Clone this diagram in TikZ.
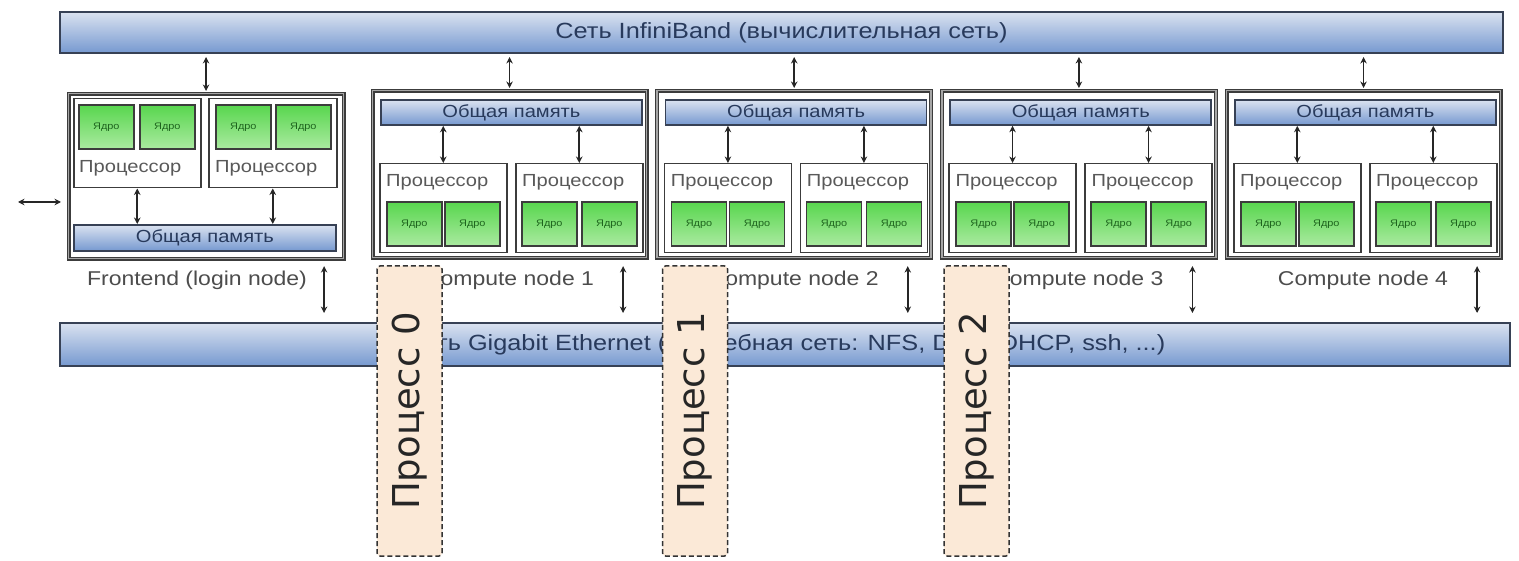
\documentclass[tikz,border=0pt]{standalone}
\usepackage{fontspec}
\setmainfont{Liberation Sans}
\newfontfamily\widesans{Liberation Sans}[FakeStretch=1.15]
\newfontfamily\procfont{DejaVu Sans}
\usetikzlibrary{arrows.meta,calc}

\definecolor{barTop}{RGB}{218,226,240}
\definecolor{barBot}{RGB}{118,153,208}
\definecolor{barEdge}{RGB}{55,65,85}
\definecolor{barText}{RGB}{40,58,92}
\definecolor{coreTop}{RGB}{88,214,78}
\definecolor{coreBot}{RGB}{170,234,160}
\definecolor{coreText}{RGB}{30,100,30}
\definecolor{procFill}{RGB}{251,233,215}
\definecolor{edge}{RGB}{60,60,60}

\tikzset{
  netbar/.style={draw=barEdge, line width=2pt, top color=barTop, bottom color=barBot,
    inner sep=0pt, text=barText, font=\widesans\fontsize{22}{22}\selectfont},
  membar/.style={draw=barEdge, line width=1.8pt, top color=barTop, bottom color=barBot,
    inner sep=0pt, anchor=north west, text=barText, font=\widesans\fontsize{17.5}{17.5}\selectfont},
  hostbox/.style={draw=edge, double=black!35, double distance=1.8pt, line width=1.1pt,
    fill=white, inner sep=0pt, anchor=north west},
  cpubox/.style={draw=edge, line width=1.5pt, fill=white, inner sep=0pt, anchor=north west},
  corebox/.style={draw=edge, line width=1.7pt, top color=coreTop, bottom color=coreBot,
    inner sep=0pt, anchor=north west, minimum width=55pt, minimum height=44pt,
    text=coreText, font=\widesans\fontsize{9.5}{9.5}\selectfont},
  cputext/.style={anchor=west, text=black!65, font=\widesans\fontsize{17.5}{17.5}\selectfont, inner sep=0pt},
  hostlabel/.style={text=black!70, font=\widesans\fontsize{20}{20}\selectfont, inner sep=0pt},
  link/.style={<->, >={Stealth[length=6.5pt,width=6.5pt]}, line width=1.7pt, draw=black!85},
  procbox/.style={draw=black!80, dash pattern=on 5pt off 3pt, line width=1.5pt,
    fill=procFill, rounded corners=3pt, rotate=90, minimum width=290pt,
    minimum height=65pt, inner sep=0pt, font=\procfont\fontsize{37}{37}\selectfont,
    text=black!85},
}

\begin{document}
\begin{tikzpicture}[x=1pt,y=-1pt]
\useasboundingbox (0,0) rectangle (1519,561);

% networks
\node[netbar, minimum width=1443pt, minimum height=41pt] (ib) at (781.5,32.5)
  {Сеть InfiniBand (вычислительная сеть)};
\node[netbar, minimum width=1450pt, minimum height=43pt] (eth) at (785,344.5)
  {Сеть Gigabit Ethernet (служебная сеть: NFS, DNS, DHCP, ssh, ...)};

% frontend node
\node[hostbox, minimum width=275pt, minimum height=165pt] (fe) at (68,93) {};
\node[cpubox, minimum width=127pt, minimum height=89pt] (fe-p1) at (73,98) {};
\node[cpubox, minimum width=128pt, minimum height=89pt] (fe-p2) at (208,98) {};
\node[corebox] (fe-p1-c1) at (78,104) {Ядро};
\node[corebox] (fe-p1-c2) at (139,104) {Ядро};
\node[corebox] (fe-p2-c1) at (215,104) {Ядро};
\node[corebox] (fe-p2-c2) at (275,104) {Ядро};
\node[cputext] (fe-p1-t) at (79,168) {Процессор};
\node[cputext] (fe-p2-t) at (215,168) {Процессор};
\node[membar, minimum width=262pt, minimum height=26pt] (fe-mem) at (73,224) {Общая память};
\draw[link] (fe-p1.south) -- (fe-p1.south |- fe-mem.north);
\draw[link] (fe-p2.south) -- (fe-p2.south |- fe-mem.north);
\node[hostlabel] (fe-l) at (197,280) {Frontend (login node)};
\draw[link, shorten <=3pt, shorten >=2pt] (ib.south -| fe.north) -- (fe.north);
\coordinate (fe-e) at ([xshift=-20pt,yshift=-7pt]fe.south east);
\draw[link, shorten >=9pt] (fe-e) -- (fe-e |- eth.north);
\coordinate (ext) at (18,202);
\draw[link, shorten >=7pt] (ext) -- (ext -| fe.west);

% compute nodes
\foreach \i in {1,...,4}{
  \pgfmathsetmacro{\x}{372+(\i-1)*284.67}
  \node[hostbox, minimum width=274pt, minimum height=167pt] (c\i) at (\x,90) {};
  \node[membar, minimum width=261pt, minimum height=25pt] (c\i-mem) at (\x+8,99) {Общая память};
  \node[cpubox, minimum width=127pt, minimum height=89pt] (c\i-p1) at (\x+7,163) {};
  \node[cpubox, minimum width=127pt, minimum height=89pt] (c\i-p2) at (\x+143,163) {};
  \node[cputext] (c\i-p1-t) at (\x+14,182) {Процессор};
  \node[cputext] (c\i-p2-t) at (\x+150,182) {Процессор};
  \node[corebox] (c\i-p1-c1) at (\x+14,201) {Ядро};
  \node[corebox] (c\i-p1-c2) at (\x+72,201) {Ядро};
  \node[corebox] (c\i-p2-c1) at (\x+149,201) {Ядро};
  \node[corebox] (c\i-p2-c2) at (\x+209,201) {Ядро};
  \draw[link] (c\i-p1.north |- c\i-mem.south) -- (c\i-p1.north);
  \draw[link] (c\i-p2.north |- c\i-mem.south) -- (c\i-p2.north);
  \node[hostlabel] (c\i-l) at (\x+137,280) {Compute node \i};
  \draw[link, shorten <=3pt, shorten >=2pt] (ib.south -| c\i.north) -- (c\i.north);
  \coordinate (c\i-e) at ([xshift=-24pt,yshift=-8pt]c\i.south east);
  \draw[link, shorten >=9pt] (c\i-e) -- (c\i-e |- eth.north);
}

% processes
\node[procbox] (pr0) at (409.5,411) {Процесс 0};
\node[procbox] (pr1) at (695,411) {Процесс 1};
\node[procbox] (pr2) at (976.5,411) {Процесс 2};
\end{tikzpicture}
\end{document}
